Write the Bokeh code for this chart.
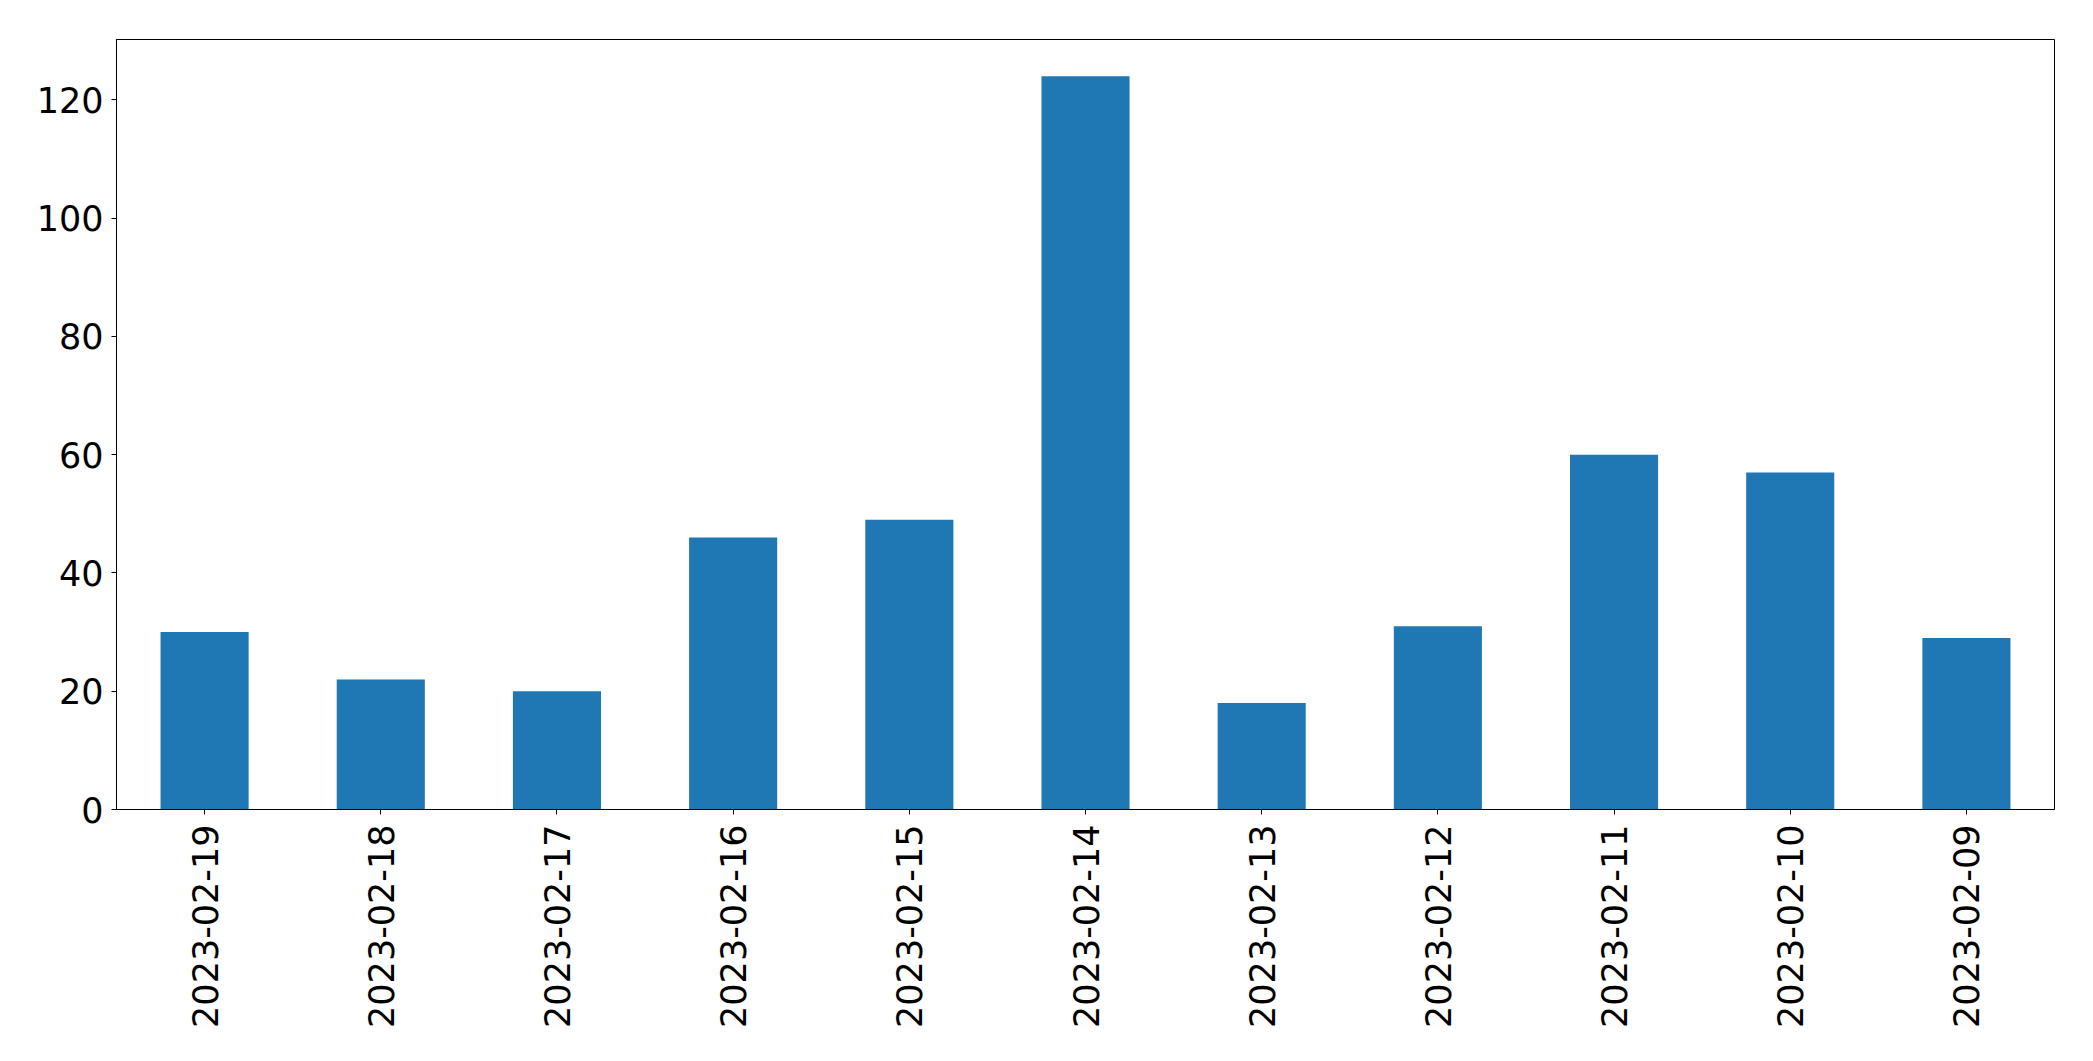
import math
from bokeh.plotting import figure
from bokeh.models import FactorRange, Range1d, SingleIntervalTicker, ColumnDataSource
from bokeh.embed import file_html
from bokeh.resources import INLINE

dates = ["2023-02-19", "2023-02-18", "2023-02-17", "2023-02-16", "2023-02-15",
         "2023-02-14", "2023-02-13", "2023-02-12", "2023-02-11", "2023-02-10",
         "2023-02-09"]
counts = [30, 22, 20, 46, 49, 124, 18, 31, 60, 57, 29]

src = ColumnDataSource(data=dict(x=dates, top=counts))

p = figure(x_range=FactorRange(*dates, range_padding=0), y_range=Range1d(0, 130.2),
           width=2085, height=1040, output_backend="svg", toolbar_location=None,
           min_border_left=116, min_border_top=39, min_border_right=31, min_border_bottom=231)

p.vbar(x="x", top="top", width=0.5, source=src, color="#1f77b4", line_color=None)

p.xgrid.visible = False
p.ygrid.visible = False
p.outline_line_color = "black"
p.outline_line_width = 1
p.outline_line_alpha = 1

p.yaxis.ticker = SingleIntervalTicker(interval=20)
for ax in (p.xaxis[0], p.yaxis[0]):
    ax.major_label_text_font = "DejaVu Sans"
    ax.major_label_text_font_size = "35px"
    ax.major_label_text_color = "black"
    ax.axis_line_color = "black"
    ax.major_tick_line_color = "black"
    ax.major_tick_out = 5
    ax.major_tick_in = 0
    ax.minor_tick_out = 0
    ax.minor_tick_in = 0
p.xaxis.major_label_orientation = math.pi / 2
p.xaxis.major_label_standoff = 10
p.yaxis.major_label_standoff = 8

open("out.html", "w").write(file_html(p, INLINE))
